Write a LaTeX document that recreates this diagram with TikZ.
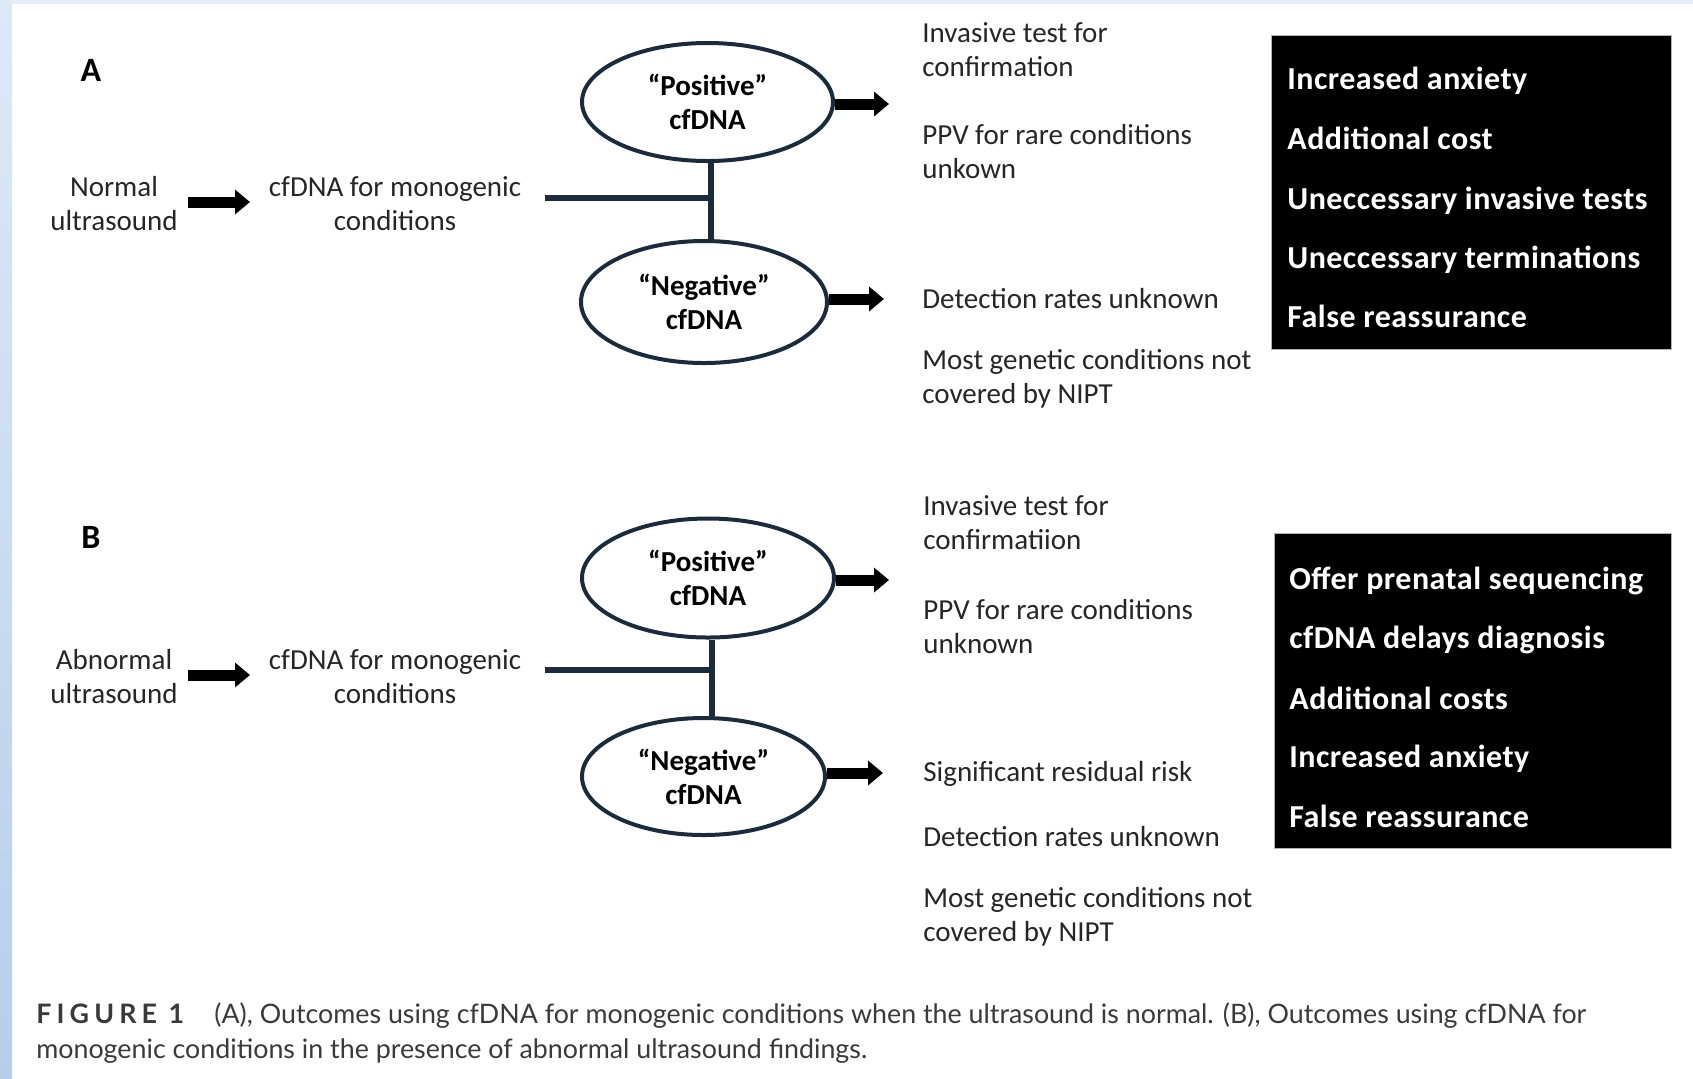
\documentclass[tikz,border=0pt]{standalone}
\usepackage{fontspec}
\setmainfont{Carlito}
\newfontfamily\capfont{Lato}
\newfontfamily\capfontsp[LetterSpace=19]{Lato}
\newfontfamily\boxfont[LetterSpace=1.5]{Carlito}
\usetikzlibrary{arrows.meta,shapes.geometric}
\definecolor{inkA}{HTML}{1C2B3B}
\definecolor{txt}{HTML}{262626}
\definecolor{bandTop}{HTML}{E3ECF7}
\definecolor{bandLa}{HTML}{DDE9F6}
\definecolor{bandLb}{HTML}{B5CFEB}
\definecolor{capc}{HTML}{3A3A3A}
\tikzset{
  lbl/.style={font=\fontsize{14.5}{17}\selectfont, text=txt, inner sep=0pt},
  leftlbl/.style={lbl, align=center},
  rightlbl/.style={lbl, align=left, anchor=west},
  oval/.style={ellipse, draw=inkA, line width=2pt, fill=white, inner sep=0pt,
    font=\bfseries\fontsize{14.5}{17}\selectfont, align=center, text=black},
  conn/.style={draw=inkA, line width=3pt},
  blockarr/.style={draw=black, line width=5.5pt, -{Triangle[length=7.5pt,width=12pt]}},
  panel/.style={fill=black, draw=gray!60, line width=0.5pt, inner sep=0pt, anchor=north west},
  paneltxt/.style={text=white, font=\boxfont\bfseries\fontsize{16}{18}\selectfont,
    anchor=west, inner sep=0pt, text height=0.68em, text depth=0.2em},
  letter/.style={font=\bfseries\fontsize{17}{19}\selectfont, inner sep=0pt, text=black},
  captxt/.style={font=\capfont\fontsize{13.4}{16}\selectfont, text=capc, anchor=base west, inner sep=0pt}
}
\begin{document}
\begin{tikzpicture}[x=0.5pt,y=-0.5pt]
\useasboundingbox (0,0) rectangle (1693,1078);
\fill[white] (0,0) rectangle (1693,1078);
\fill[bandTop] (0,0) rectangle (1693,4);
\shade[top color=bandLa, bottom color=bandLb] (0,0) rectangle (12,1078);

% ---------- Panel A ----------
\node[letter] (labA) at (91,70) {A};
\node[leftlbl] (usA) at (114,204) {Normal\\ultrasound};
\node[leftlbl] (cfA) at (395,204) {cfDNA for monogenic\\conditions};
\coordinate (aA0) at (188,202);
\coordinate (aA1) at (250,202);
\draw[blockarr] (aA0) -- (aA1);

\node[oval, minimum width=125.5pt, minimum height=59pt] (posA) at (707.5,102) {``Positive''\\cfDNA};
\node[oval, minimum width=123pt, minimum height=61pt] (negA) at (704,302) {``Negative''\\cfDNA};
\coordinate (hA) at (545,198);
\coordinate (jA) at (711,198);
\draw[conn] (hA) -- (jA);
\draw[conn] (posA.south -| jA) -- (negA.north -| jA);
\coordinate (pAe) at (889,104);
\coordinate (nAe) at (884,299);
\draw[blockarr] (posA.east |- pAe) -- (pAe);
\draw[blockarr] (negA.east |- nAe) -- (nAe);

\node[rightlbl] (tA1) at (922,50) {Invasive test for\\confirmation};
\node[rightlbl] (tA2) at (922,152) {PPV for rare conditions\\unkown};
\node[rightlbl] (tA3) at (922,299) {Detection rates unknown};
\node[rightlbl] (tA4) at (922,379) {Most genetic conditions not\\covered by NIPT};

\node[panel, minimum width=200pt, minimum height=157pt] (boxA) at (1271,35) {};
\node[paneltxt] (bA1) at (1287,85) {Increased anxiety};
\node[paneltxt] (bA2) at (1287,145) {Additional cost};
\node[paneltxt] (bA3) at (1287,205) {Uneccessary invasive tests};
\node[paneltxt] (bA4) at (1287,264) {Uneccessary terminations};
\node[paneltxt] (bA5) at (1287,323) {False reassurance};

% ---------- Panel B ----------
\node[letter] (labB) at (91,537) {B};
\node[leftlbl] (usB) at (114,677) {Abnormal\\ultrasound};
\node[leftlbl] (cfB) at (395,677) {cfDNA for monogenic\\conditions};
\coordinate (aB0) at (188,675);
\coordinate (aB1) at (250,675);
\draw[blockarr] (aB0) -- (aB1);

\node[oval, minimum width=126pt, minimum height=59.5pt] (posB) at (708,578) {``Positive''\\cfDNA};
\node[oval, minimum width=121.5pt, minimum height=58.5pt] (negB) at (703.5,776.5) {``Negative''\\cfDNA};
\coordinate (hB) at (545,670);
\coordinate (jB) at (712,670);
\draw[conn] (hB) -- (jB);
\draw[conn] (posB.south -| jB) -- (negB.north -| jB);
\coordinate (pBe) at (889,580);
\coordinate (nBe) at (883,773);
\draw[blockarr] (posB.east |- pBe) -- (pBe);
\draw[blockarr] (negB.east |- nBe) -- (nBe);

\node[rightlbl] (tB1) at (923,523) {Invasive test for\\confirmatiion};
\node[rightlbl] (tB2) at (923,627) {PPV for rare conditions\\unknown};
\node[rightlbl] (tB3) at (923,774) {Significant residual risk};
\node[rightlbl] (tB4) at (923,837) {Detection rates unknown};
\node[rightlbl] (tB5) at (923,917) {Most genetic conditions not\\covered by NIPT};

\node[panel, minimum width=198.5pt, minimum height=157.5pt] (boxB) at (1274,533) {};
\node[paneltxt] (bB1) at (1289,585) {Offer prenatal sequencing};
\node[paneltxt] (bB2) at (1289,644) {cfDNA delays diagnosis};
\node[paneltxt] (bB3) at (1289,705) {Additional costs};
\node[paneltxt] (bB4) at (1289,763) {Increased anxiety};
\node[paneltxt] (bB5) at (1289,823) {False reassurance};

% ---------- Caption ----------
\node[captxt, font=\capfontsp\bfseries\fontsize{13.4}{16}\selectfont] (capF) at (36,1023) {FIGURE 1};
\node[captxt] (cap1) at (214,1023) {(A), Outcomes using cfDNA for monogenic conditions when the ultrasound is normal. (B), Outcomes using cfDNA for};
\node[captxt] (cap2) at (36,1058) {monogenic conditions in the presence of abnormal ultrasound findings.};
\end{tikzpicture}
\end{document}
